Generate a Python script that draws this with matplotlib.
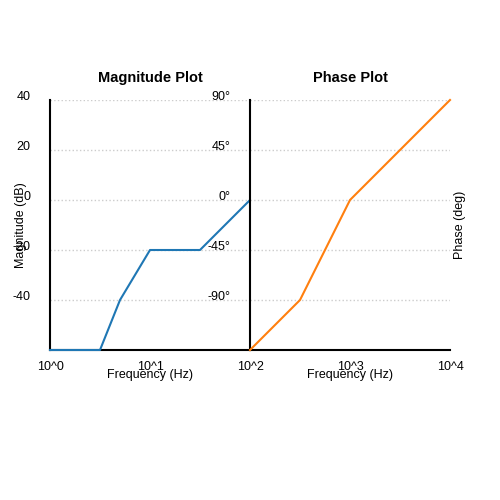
import matplotlib
matplotlib.use("Agg")
import matplotlib.pyplot as plt
import matplotlib.transforms as mtrans

plt.rcParams['font.family'] = ['Liberation Sans', 'DejaVu Sans']

mag_freq = [1, 10**0.5, 10**0.7, 10, 10**1.5, 100]
mag_db = [-60, -60, -40, -20, -20, 0]
ph_freq = [100, 10**2.5, 1000, 10000]
ph_deg = [-135, -90, 0, 90]

fig = plt.figure(figsize=(5, 5), dpi=100)
ax1 = fig.add_axes([0.1, 0.3, 0.4, 0.5])
ax2 = fig.add_axes([0.5, 0.3, 0.4, 0.5])

ax1.plot(mag_freq, mag_db, color='#1f77b4', lw=1.5, clip_on=False, zorder=5)
ax2.plot(ph_freq, ph_deg, color='#ff7f0e', lw=1.5, clip_on=False, zorder=5)

for ax in (ax1, ax2):
    ax.set_xscale('log')
    for s in ('top', 'right'):
        ax.spines[s].set_visible(False)
    for s in ('left', 'bottom'):
        ax.spines[s].set_linewidth(1.5)
    ax.grid(axis='y', color='#cccccc', linestyle=':', lw=1)
    ax.tick_params(length=0, labelsize=9)
    ax.tick_params(axis='y', pad=14)
    ax.tick_params(axis='x', pad=8)
    ax.minorticks_off()
    ax.set_xlabel('Frequency (Hz)', fontsize=9, labelpad=-3)

ax1.set_xlim(1, 100)
ax1.set_ylim(-60, 40)
ax1.set_xticks([1, 10])
ax1.set_xticklabels(['10^0', '10^1'])
ax1.set_yticks([40, 20, 0, -20, -40])
ax1.set_yticklabels(['40', '20', '0', '-20', '-40'])
ax1.set_ylabel('Magnitude (dB)', fontsize=9)
ax1.yaxis.set_label_coords(-0.115, 0.5)
ax1.set_title('Magnitude Plot', fontweight='bold', fontsize=10.5, pad=13)

ax2.set_xlim(100, 10000)
ax2.set_ylim(-135, 90)
ax2.set_xticks([100, 1000, 10000])
ax2.set_xticklabels(['10^2', '10^3', '10^4'])
ax2.set_yticks([90, 45, 0, -45, -90])
ax2.set_yticklabels(['90°', '45°', '0°', '-45°', '-90°'])
ax2.set_ylabel('Phase (deg)', fontsize=9)
ax2.yaxis.set_label_coords(1.08, 0.5)
ax2.set_title('Phase Plot', fontweight='bold', fontsize=10.5, pad=13)

off = mtrans.ScaledTranslation(0, 4 / 100, fig.dpi_scale_trans)
for ax in (ax1, ax2):
    for lab in ax.get_yticklabels():
        lab.set_transform(lab.get_transform() + off)

fig.savefig('out.png', dpi=100)
